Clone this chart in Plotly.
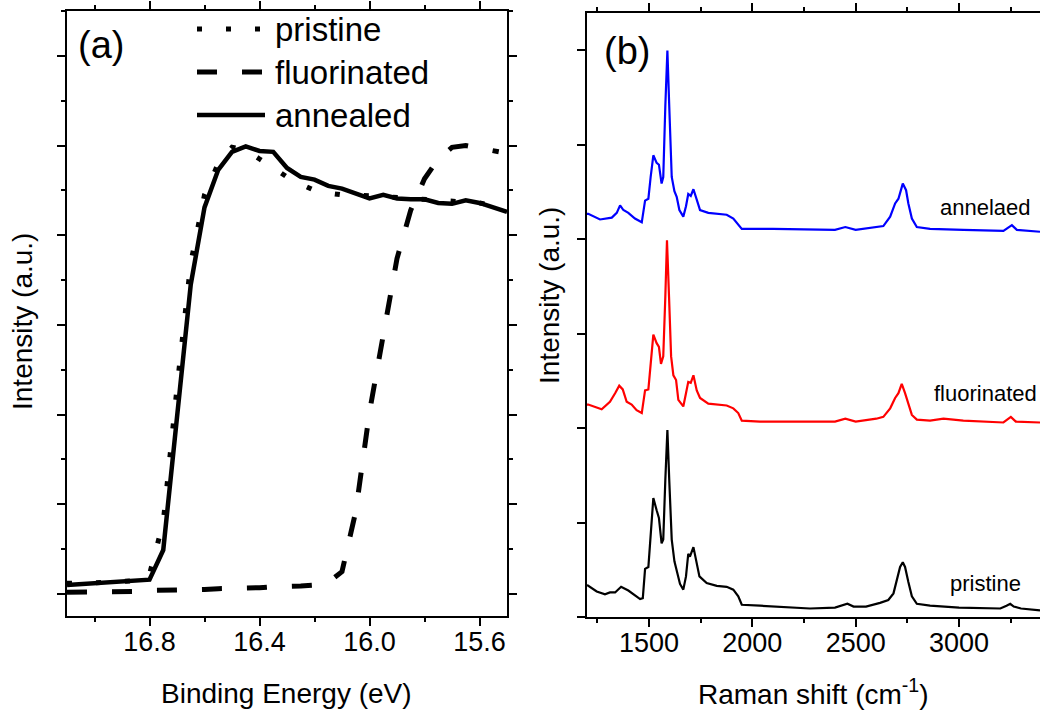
import plotly.graph_objects as go

# ---------------- Panel (a): UPS cutoff ----------------
be_grid = [17.10, 17.05, 17.00, 16.95, 16.90, 16.85, 16.80, 16.75, 16.70, 16.65, 16.60,
           16.55, 16.50, 16.45, 16.40, 16.35, 16.30, 16.25, 16.20, 16.15, 16.10, 16.05,
           16.00, 15.95, 15.90, 15.85, 15.80, 15.75, 15.70, 15.65, 15.60, 15.55, 15.50]
int_pristine = [0.12, 0.12, 0.13, 0.13, 0.14, 0.15, 0.22, 0.80, 2.30, 3.69, 4.45,
                4.80, 4.98, 4.95, 4.85, 4.75, 4.65, 4.57, 4.50, 4.47, 4.45, 4.45,
                4.44, 4.43, 4.41, 4.40, 4.39, 4.38, 4.37, 4.37, 4.36, 4.33, 4.28]
int_annealed = [0.10, 0.11, 0.12, 0.12, 0.13, 0.14, 0.16, 0.49, 1.97, 3.45, 4.31,
                4.73, 4.93, 4.99, 4.94, 4.93, 4.75, 4.65, 4.62, 4.55, 4.52, 4.46,
                4.41, 4.45, 4.41, 4.40, 4.40, 4.36, 4.35, 4.39, 4.36, 4.31, 4.26]
be_fluor = [17.10, 17.05, 17.00, 16.95, 16.90, 16.85, 16.80, 16.75, 16.70, 16.65, 16.60,
            16.55, 16.50, 16.45, 16.40, 16.35, 16.30, 16.25, 16.20, 16.15, 16.10, 16.05,
            16.00, 15.95, 15.90, 15.85, 15.80, 15.75, 15.70, 15.65, 15.60, 15.53]
int_fluor = [0.02, 0.02, 0.03, 0.03, 0.03, 0.03, 0.04, 0.04, 0.04, 0.05, 0.05,
             0.06, 0.06, 0.07, 0.07, 0.08, 0.08, 0.09, 0.10, 0.13, 0.25, 0.92,
             2.03, 2.92, 3.74, 4.28, 4.63, 4.85, 4.98, 5.00, 4.97, 4.93]

# ---------------- Panel (b): Raman spectra (offset) ----------------
raman_pristine_x = [1200, 1206, 1247, 1287, 1311, 1336, 1365, 1400, 1432, 1457, 1470, 1481,
                    1497, 1508, 1521, 1537, 1548, 1561, 1569, 1579, 1589, 1598, 1610, 1623,
                    1634, 1650, 1666, 1679, 1690, 1698, 1715, 1728, 1744, 1779, 1828, 1876,
                    1908, 1932, 1949, 2037, 2279, 2400, 2430, 2460, 2490, 2550, 2618, 2658,
                    2683, 2699, 2715, 2728, 2739, 2755, 2772, 2796, 2860, 3000, 3200, 3230,
                    3248, 3265, 3300, 3392]
raman_pristine_y = [0.34, 0.33, 0.27, 0.24, 0.26, 0.26, 0.32, 0.28, 0.23, 0.19, 0.20, 0.51,
                    0.53, 0.92, 1.26, 1.13, 1.05, 0.78, 0.82, 1.45, 1.98, 1.45, 0.82, 0.59,
                    0.50, 0.35, 0.29, 0.43, 0.67, 0.64, 0.74, 0.60, 0.43, 0.36, 0.33, 0.32,
                    0.29, 0.22, 0.13, 0.12, 0.09, 0.10, 0.12, 0.14, 0.11, 0.11, 0.15, 0.18,
                    0.25, 0.39, 0.53, 0.58, 0.53, 0.37, 0.22, 0.14, 0.12, 0.10, 0.09, 0.12,
                    0.14, 0.11, 0.09, 0.07]
raman_fluor_x = [1200, 1206, 1271, 1311, 1336, 1356, 1373, 1392, 1416, 1440, 1465, 1481,
                 1497, 1508, 1521, 1537, 1548, 1558, 1569, 1579, 1587, 1597, 1607, 1618,
                 1631, 1642, 1666, 1679, 1690, 1702, 1715, 1731, 1747, 1787, 1876, 1908,
                 1932, 1949, 2037, 2279, 2400, 2450, 2500, 2600, 2634, 2667, 2691, 2707,
                 2723, 2739, 2755, 2772, 2796, 2860, 2925, 3021, 3215, 3251, 3275, 3392]
raman_fluor_y = [2.25, 2.25, 2.20, 2.28, 2.37, 2.45, 2.41, 2.28, 2.25, 2.19, 2.16, 2.40,
                 2.41, 2.69, 2.99, 2.90, 2.86, 2.68, 2.76, 3.39, 3.99, 3.39, 2.76, 2.56,
                 2.51, 2.30, 2.23, 2.37, 2.49, 2.48, 2.56, 2.40, 2.32, 2.26, 2.24, 2.21,
                 2.16, 2.08, 2.07, 2.07, 2.07, 2.10, 2.07, 2.10, 2.12, 2.21, 2.32, 2.37,
                 2.47, 2.37, 2.25, 2.14, 2.09, 2.08, 2.10, 2.08, 2.06, 2.12, 2.07, 2.06]
raman_anneal_x = [1200, 1206, 1263, 1320, 1344, 1360, 1376, 1400, 1432, 1465, 1481, 1497,
                  1508, 1521, 1537, 1548, 1561, 1569, 1579, 1589, 1598, 1610, 1623, 1634,
                  1647, 1666, 1679, 1690, 1702, 1715, 1731, 1747, 1787, 1876, 1908, 1932,
                  1949, 2100, 2300, 2400, 2450, 2500, 2634, 2667, 2691, 2707, 2728, 2744,
                  2755, 2772, 2796, 2860, 3021, 3215, 3256, 3280, 3392]
raman_anneal_y = [4.27, 4.27, 4.21, 4.23, 4.28, 4.36, 4.31, 4.28, 4.22, 4.18, 4.41, 4.43,
                  4.66, 4.89, 4.81, 4.79, 4.59, 4.66, 5.41, 6.00, 5.41, 4.66, 4.51, 4.45,
                  4.31, 4.24, 4.35, 4.48, 4.46, 4.53, 4.42, 4.31, 4.28, 4.26, 4.22, 4.15,
                  4.11, 4.11, 4.10, 4.10, 4.13, 4.10, 4.14, 4.24, 4.38, 4.43, 4.59, 4.52,
                  4.38, 4.22, 4.13, 4.11, 4.10, 4.09, 4.15, 4.10, 4.08]

legend_labels = ["pristine", "fluorinated", "annealed"]
spectrum_labels = ["annelaed", "fluorinated", "pristine"]
xa_ticks = [16.8, 16.4, 16.0, 15.6]
xa_ticktext = ["16.8", "16.4", "16.0", "15.6"]
xb_ticks = [1500, 2000, 2500, 3000]

W, H = 1040, 712
FONT = "Liberation Sans, Arial, sans-serif"


def fx(p):
    return p / W


def fy(p):
    return 1 - p / H


fig = go.Figure()

# panel a traces
fig.add_trace(go.Scatter(x=be_grid, y=int_pristine, mode="lines", xaxis="x", yaxis="y",
                         line=dict(color="black", width=5, dash="5px,24px"), showlegend=False))
fig.add_trace(go.Scatter(x=be_fluor, y=int_fluor, mode="lines", xaxis="x", yaxis="y",
                         line=dict(color="black", width=5, dash="20px,25px"), showlegend=False))
fig.add_trace(go.Scatter(x=be_grid, y=int_annealed, mode="lines", xaxis="x", yaxis="y",
                         line=dict(color="black", width=4.5), showlegend=False))

# panel b traces
fig.add_trace(go.Scatter(x=raman_anneal_x, y=raman_anneal_y, mode="lines", xaxis="x2", yaxis="y2",
                         line=dict(color="#0000ff", width=2.2), showlegend=False))
fig.add_trace(go.Scatter(x=raman_fluor_x, y=raman_fluor_y, mode="lines", xaxis="x2", yaxis="y2",
                         line=dict(color="#ff0000", width=2.2), showlegend=False))
fig.add_trace(go.Scatter(x=raman_pristine_x, y=raman_pristine_y, mode="lines", xaxis="x2", yaxis="y2",
                         line=dict(color="black", width=2.2), showlegend=False))

axis_common = dict(showline=True, linecolor="#000000", linewidth=2, showgrid=False, zeroline=False,
                   ticks="outside", tickwidth=2, tickcolor="black", ticklabelstandoff=-7,
                   tickfont=dict(family=FONT, size=27, color="black"))

fig.update_layout(
    width=W, height=H, margin=dict(l=0, r=0, t=0, b=0),
    paper_bgcolor="white", plot_bgcolor="white", template="none",
    showlegend=False,
    xaxis=dict(domain=[fx(67), fx(507)], anchor="y", range=[17.1, 15.5], mirror="ticks",
               tickmode="array", tickvals=xa_ticks, ticktext=xa_ticktext,
               ticklen=8,
               minor=dict(tickmode="array", tickvals=[17.0, 16.6, 16.2, 15.8], ticks="outside",
                          ticklen=4, tickwidth=2, tickcolor="black", showgrid=False),
               **axis_common),
    yaxis=dict(domain=[fy(616), fy(11)], anchor="x", range=[-0.245, 6.5], mirror="ticks",
               tickmode="linear", tick0=0, dtick=1, ticklen=8, showticklabels=False,
               minor=dict(tickmode="linear", tick0=0.5, dtick=1, ticks="outside",
                          ticklen=4, tickwidth=2, tickcolor="black", showgrid=False),
               **axis_common),
    xaxis2=dict(domain=[fx(587), 1.0], anchor="y2", range=[1200, 3392], mirror="ticks",
                tickmode="array", tickvals=xb_ticks, ticklen=8,
                minor=dict(tickmode="array", tickvals=[1250, 1750, 2250, 2750, 3250], ticks="outside",
                           ticklen=4, tickwidth=2, tickcolor="black", showgrid=False),
                **axis_common),
    yaxis2=dict(domain=[fy(617), fy(12.7)], anchor="x2", range=[0, 6.4], mirror=False,
                tickmode="linear", tick0=0, dtick=1, ticklen=8, showticklabels=False,
                **axis_common),
)

# legend (panel a) drawn as sample lines + text
legend_rows = [29, 72, 115]
legend_dash = ["5px,24px", "20px,25px", "solid"]
legend_width = [5, 5, 4.5]
for row, dash, wid, lab in zip(legend_rows, legend_dash, legend_width, legend_labels):
    fig.add_shape(type="line", xref="paper", yref="paper", x0=fx(197), x1=fx(265),
                  y0=fy(row), y1=fy(row), line=dict(color="black", width=wid, dash=dash))
    fig.add_annotation(x=fx(273), y=fy(row), xref="paper", yref="paper", text=lab,
                       showarrow=False, xanchor="left", yanchor="middle",
                       font=dict(family=FONT, size=33, color="black"))

annos = [
    dict(x=fx(101), y=fy(45), text="(a)", size=38, angle=0, xa="center"),
    dict(x=fx(627), y=fy(51), text="(b)", size=38, angle=0, xa="center"),
    dict(x=fx(938), y=fy(207), text=spectrum_labels[0], size=22, angle=0, xa="left"),
    dict(x=fx(932), y=fy(393), text=spectrum_labels[1], size=22, angle=0, xa="left"),
    dict(x=fx(948), y=fy(583), text=spectrum_labels[2], size=22, angle=0, xa="left"),
    dict(x=fx(286), y=fy(693), text="Binding Energy (eV)", size=28, angle=0, xa="center"),
    dict(x=fx(813), y=fy(692), text="Raman shift (cm<sup>-1</sup>)", size=28, angle=0, xa="center"),
    dict(x=fx(22), y=fy(322), text="Intensity (a.u.)", size=28, angle=-90, xa="center"),
    dict(x=fx(549), y=fy(296), text="Intensity (a.u.)", size=28, angle=-90, xa="center"),
]
for a in annos:
    fig.add_annotation(x=a["x"], y=a["y"], xref="paper", yref="paper", text=a["text"],
                       showarrow=False, xanchor=a["xa"], yanchor="middle", textangle=a["angle"],
                       font=dict(family=FONT, size=a["size"], color="black"))

fig.write_html("out.html")
